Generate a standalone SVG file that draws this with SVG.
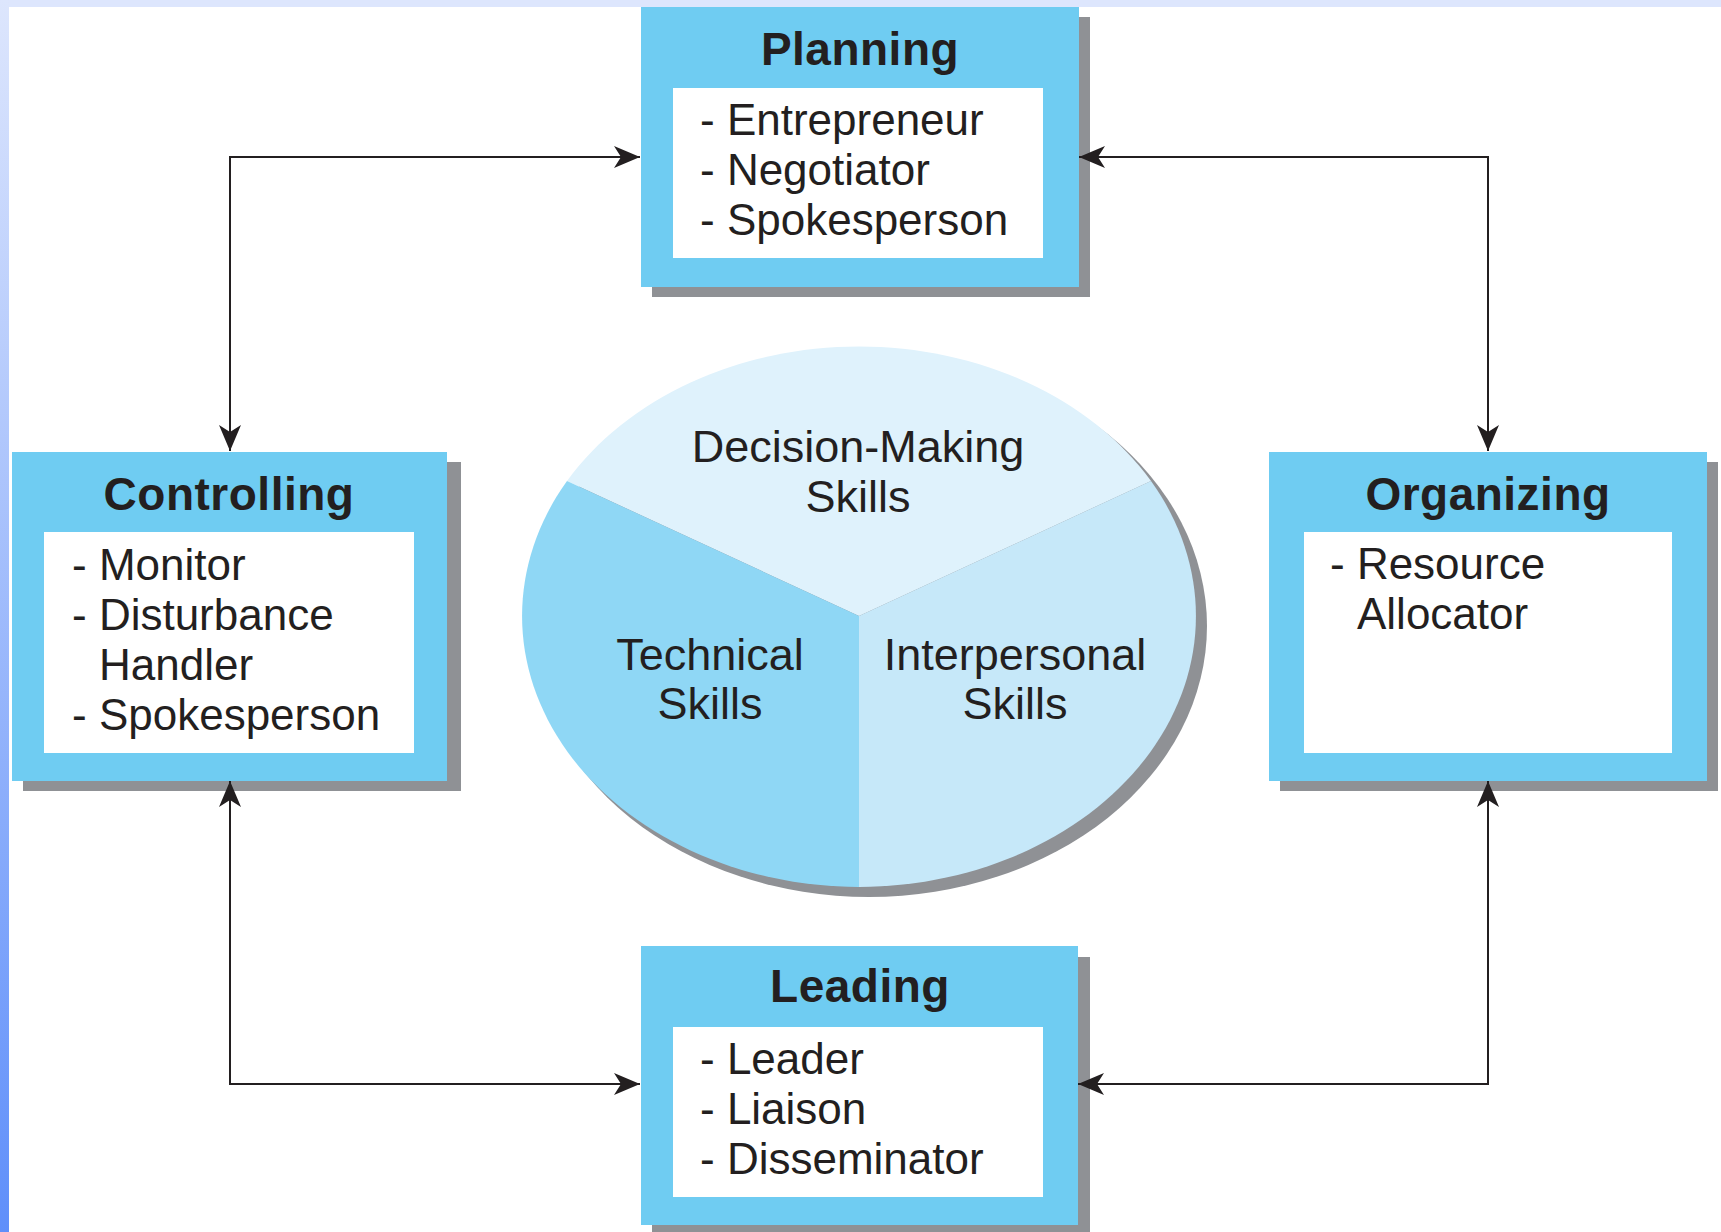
<svg xmlns="http://www.w3.org/2000/svg" width="1721" height="1232" viewBox="0 0 1721 1232">
<style>
.box{fill:#6fccf2}
.shadow{fill:#8f9195}
.inner{fill:#ffffff}
.title{font-family:"Liberation Sans",Arial,sans-serif;font-weight:bold;font-size:46px;fill:#231f20;text-anchor:middle;letter-spacing:0.5px}
.item{font-family:"Liberation Sans",Arial,sans-serif;font-size:44px;fill:#231f20}
.skill{font-family:"Liberation Sans",Arial,sans-serif;font-size:45px;fill:#231f20;text-anchor:middle}
.conn{fill:none;stroke:#231f20;stroke-width:2;marker-start:url(#arr);marker-end:url(#arr)}
</style>
<defs>
<linearGradient id="leftStrip" x1="0" y1="0" x2="0" y2="1">
<stop offset="0" stop-color="#dde6fd"/>
<stop offset="1" stop-color="#5f8ffa"/>
</linearGradient>
<marker id="arr" markerUnits="userSpaceOnUse" viewBox="0 0 26 22" refX="26" refY="11" markerWidth="26" markerHeight="22" orient="auto-start-reverse">
<path d="M0,0 L26,11 L0,22 L7,11 Z" fill="#231f20"/>
</marker>
</defs>
<rect x="0" y="0" width="1721" height="1232" fill="#ffffff"/>
<rect x="0" y="0" width="1721" height="7" fill="#dde6fd"/>
<rect x="0" y="0" width="9" height="1232" fill="url(#leftStrip)"/>

<g id="planning">
<rect class="shadow" x="652" y="17" width="438" height="280"/>
<rect class="box" x="641" y="7" width="438" height="280"/>
<rect class="inner" x="673" y="88" width="370" height="170"/>
<text class="title" x="860" y="65">Planning</text>
<text class="item" x="700" y="135">- Entrepreneur</text>
<text class="item" x="700" y="185">- Negotiator</text>
<text class="item" x="700" y="235">- Spokesperson</text>
</g>

<g id="controlling">
<rect class="shadow" x="23" y="462" width="438" height="329"/>
<rect class="box" x="12" y="452" width="435" height="329"/>
<rect class="inner" x="44" y="532" width="370" height="221"/>
<text class="title" x="229" y="510">Controlling</text>
<text class="item" x="72" y="580">- Monitor</text>
<text class="item" x="72" y="630">- Disturbance</text>
<text class="item" x="99" y="680">Handler</text>
<text class="item" x="72" y="730">- Spokesperson</text>
</g>

<g id="organizing">
<rect class="shadow" x="1280" y="462" width="438" height="329"/>
<rect class="box" x="1269" y="452" width="438" height="329"/>
<rect class="inner" x="1304" y="532" width="368" height="221"/>
<text class="title" x="1488" y="510">Organizing</text>
<text class="item" x="1330" y="579">- Resource</text>
<text class="item" x="1357" y="629">Allocator</text>
</g>

<g id="leading">
<rect class="shadow" x="652" y="957" width="438" height="285"/>
<rect class="box" x="641" y="946" width="437" height="279"/>
<rect class="inner" x="673" y="1027" width="370" height="170"/>
<text class="title" x="860" y="1002">Leading</text>
<text class="item" x="700" y="1074">- Leader</text>
<text class="item" x="700" y="1124">- Liaison</text>
<text class="item" x="700" y="1174">- Disseminator</text>
</g>

<g id="skills">
<ellipse cx="869" cy="626" rx="338" ry="271" fill="#8f9195"/>
<path d="M859,616 L567,481 A338,271 0 0 1 1151,481 Z" fill="#dff2fc"/>
<path d="M859,616 L567,481 A338,271 0 0 0 859,887 Z" fill="#8fd7f5"/>
<path d="M859,616 L859,887 A338,271 0 0 0 1151,481 Z" fill="#c6e8f9"/>
<text class="skill" x="858" y="462">Decision-Making</text>
<text class="skill" x="858" y="512">Skills</text>
<text class="skill" x="710" y="670">Technical</text>
<text class="skill" x="710" y="719">Skills</text>
<text class="skill" x="1015" y="670">Interpersonal</text>
<text class="skill" x="1015" y="719">Skills</text>
</g>

<g id="connectors">
<path class="conn" d="M230,451 V157 H640"/>
<path class="conn" d="M1079,157 H1488 V451"/>
<path class="conn" d="M230,781 V1084 H640"/>
<path class="conn" d="M1078,1084 H1488 V781"/>
</g>
</svg>
